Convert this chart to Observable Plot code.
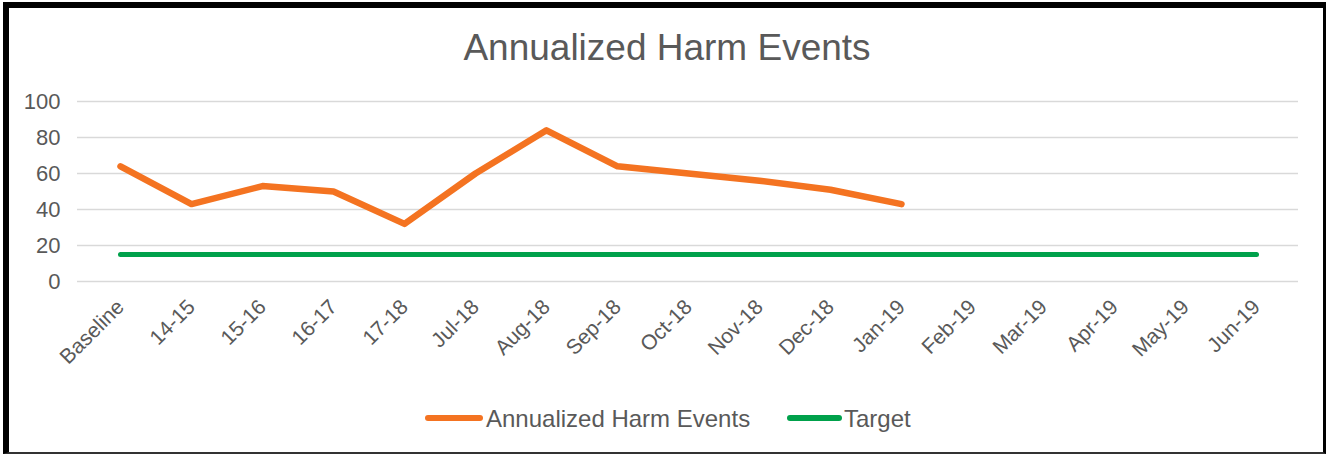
<!DOCTYPE html>
<html>
<head>
<meta charset="utf-8">
<script src="https://cdn.jsdelivr.net/npm/d3@7"></script>
<script src="https://cdn.jsdelivr.net/npm/@observablehq/plot@0.6"></script>
<style>
  html, body { margin: 0; padding: 0; background: #fff; }
  body { width: 1326px; height: 454px; position: relative; overflow: hidden; font-family: "Liberation Sans", Arial, sans-serif; }
  #frame { position: absolute; left: 3px; top: 2px; width: 1323px; height: 452px; box-sizing: border-box;
           border-left: 6px solid #000; border-top: 6px solid #000; border-right: 3px solid #000; border-bottom: 2px solid #333; }
  #title { position: absolute; left: 0; top: 29px; width: 1326px; padding-left: 8px; box-sizing: border-box; text-align: center;
           font-size: 37px; line-height: 37px; color: #595959; white-space: nowrap; }
  #chart { position: absolute; left: 0; top: 0; }
  .sw { position: absolute; height: 6px; border-radius: 3px; }
  .lt { position: absolute; font-size: 24px; line-height: 24px; color: #595959; white-space: nowrap; }
</style>
</head>
<body>
<div id="frame"></div>
<div id="title">Annualized Harm Events</div>
<div id="chart"></div>
<div class="sw" style="left:425px; top:415px; width:58px; background:#F47321;"></div>
<div class="lt" style="left:486px; top:407px;">Annualized Harm Events</div>
<div class="sw" style="left:787px; top:415px; width:55px; background:#00A14B;"></div>
<div class="lt" style="left:844px; top:407px;">Target</div>
<script>
const categories = ["Baseline","14-15","15-16","16-17","17-18","Jul-18","Aug-18","Sep-18","Oct-18","Nov-18","Dec-18","Jan-19","Feb-19","Mar-19","Apr-19","May-19","Jun-19"];
const harmValues = [64, 43, 53, 50, 32, 60, 84, 64, 60, 56, 51, 43];
const targetValues = [15, 15, 15, 15, 15, 15, 15, 15, 15, 15, 15, 15, 15, 15, 15, 15, 15];
const yTicks = [0, 20, 40, 60, 80, 100];

const harmRows = harmValues.map((v, i) => ({cat: categories[i], value: v}));
const targetRows = targetValues.map((v, i) => ({cat: categories[i], value: v}));

const chart = Plot.plot({
  width: 1326,
  height: 360,
  marginLeft: 77,
  marginRight: 28,
  marginTop: 101,
  marginBottom: 79,
  x: {type: "point", domain: categories, padding: 0.5},
  y: {domain: [0, 100]},
  style: {fontFamily: "'Liberation Sans', Arial, sans-serif", fontSize: "22px", color: "#595959", background: "transparent", overflow: "visible"},
  marks: [
    Plot.gridY(yTicks, {stroke: "#d9d9d9", strokeOpacity: 1, strokeWidth: 1.5}),
    Plot.axisY(yTicks, {tickSize: 0, tickPadding: 17, fontSize: 22, fill: "#595959", label: null}),
    Plot.axisX({tickSize: 0, tickRotate: -45, tickPadding: 22, fontSize: 21, fill: "#595959", label: null}),
    Plot.line(targetRows, {x: "cat", y: "value", stroke: "#00A14B", strokeWidth: 5, strokeLinecap: "round"}),
    Plot.line(harmRows, {x: "cat", y: "value", stroke: "#F47321", strokeWidth: 6.5, strokeLinecap: "round", strokeLinejoin: "round"})
  ]
});
document.getElementById("chart").appendChild(chart);
</script>
</body>
</html>
